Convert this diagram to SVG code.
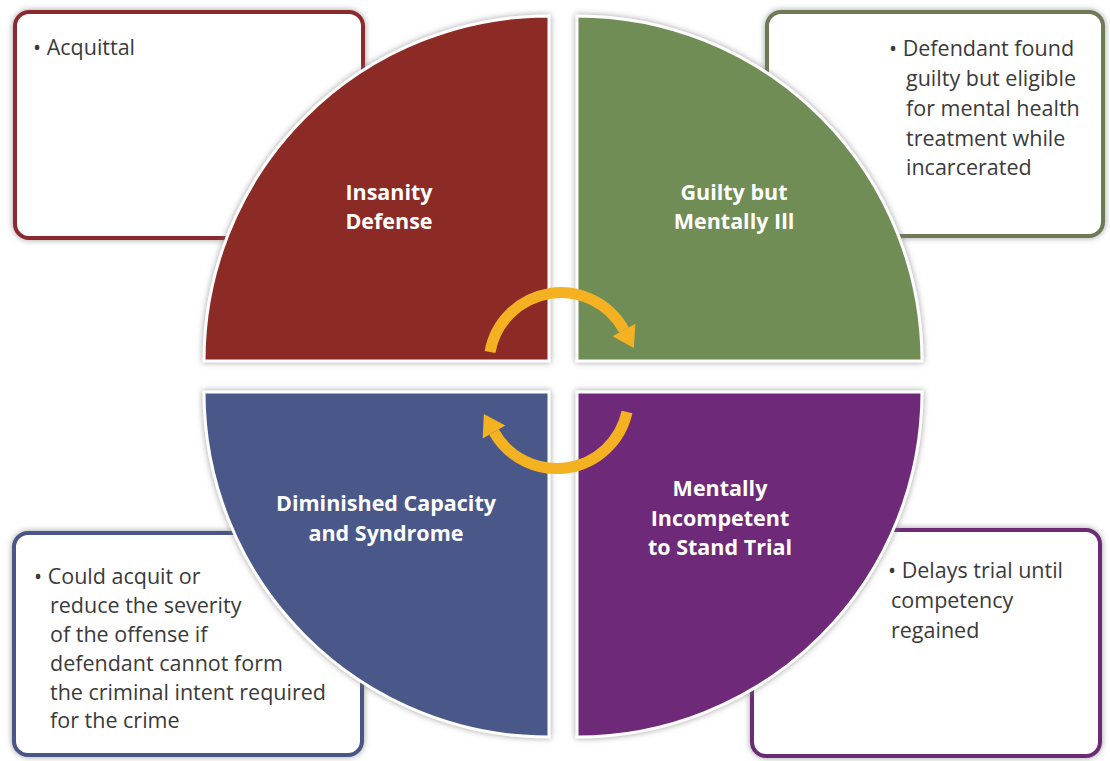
<svg xmlns="http://www.w3.org/2000/svg" width="1110" height="761" viewBox="0 0 1110 761">
<defs>
<style>
.box{fill:#fff;stroke-width:4;}
.body{font-family:"Open Sans","Liberation Sans",sans-serif;font-size:21.5px;fill:#3a3a3a;}
.lbl{font-family:"Open Sans","Liberation Sans",sans-serif;font-size:21.5px;font-weight:bold;fill:#fff;text-anchor:middle;}
.wedge{stroke:#fff;stroke-width:3;}
.arrow{fill:none;stroke:#F4B223;stroke-width:11;}
</style>
<filter id="sh" x="-10%" y="-10%" width="120%" height="120%">
<feDropShadow dx="0" dy="0" stdDeviation="3" flood-color="#777" flood-opacity="0.7"/>
</filter>
<marker id="ah" markerUnits="userSpaceOnUse" markerWidth="24" markerHeight="26" refX="0" refY="12" orient="auto" viewBox="0 0 20 24">
<path d="M0,0 L19,12 L0,24 Z" fill="#F4B223"/>
</marker>
</defs>
<rect width="1110" height="761" fill="#fff"/>

<g id="box-acquittal">
<rect class="box" x="15" y="12" width="348" height="226" rx="14" stroke="#8B2B2E" filter="url(#sh)"/>
<text class="body" x="33" y="55">• Acquittal</text>
</g>
<g id="box-guilty">
<rect class="box" x="767" y="12" width="336" height="224" rx="14" stroke="#6C7A54" filter="url(#sh)"/>
<text class="body" x="889" y="56">• Defendant found</text>
<text class="body" x="906" y="86">guilty but eligible</text>
<text class="body" x="906" y="116">for mental health</text>
<text class="body" x="906" y="146">treatment while</text>
<text class="body" x="906" y="175">incarcerated</text>
</g>
<g id="box-diminished">
<rect class="box" x="14" y="533" width="348" height="222" rx="14" stroke="#4A5484" filter="url(#sh)"/>
<text class="body" x="34" y="584">• Could acquit or</text>
<text class="body" x="50" y="613">reduce the severity</text>
<text class="body" x="50" y="642">of the offense if</text>
<text class="body" x="50" y="671">defendant cannot form</text>
<text class="body" x="50" y="700">the criminal intent required</text>
<text class="body" x="50" y="728">for the crime</text>
</g>
<g id="box-incompetent">
<rect class="box" x="752" y="530" width="348" height="226" rx="14" stroke="#6D2A74" filter="url(#sh)"/>
<text class="body" x="888" y="578">• Delays trial until</text>
<text class="body" x="891" y="608">competency</text>
<text class="body" x="891" y="638">regained</text>
</g>

<g id="node-insanity">
<path class="wedge" d="M549,361 H204 A345,345 0 0 1 549,16 Z" fill="#8C2A25" filter="url(#sh)"/>
<text class="lbl" x="389" y="200">Insanity</text>
<text class="lbl" x="389" y="229">Defense</text>
</g>
<g id="node-guilty">
<path class="wedge" d="M577,361 V16 A345,345 0 0 1 922,361 Z" fill="#6F8D57" filter="url(#sh)"/>
<text class="lbl" x="734" y="200">Guilty but</text>
<text class="lbl" x="734" y="229">Mentally Ill</text>
</g>
<g id="node-diminished">
<path class="wedge" d="M549,392 V737 A345,345 0 0 1 204,392 Z" fill="#4A5888" filter="url(#sh)"/>
<text class="lbl" x="386" y="511">Diminished Capacity</text>
<text class="lbl" x="386" y="541">and Syndrome</text>
</g>
<g id="node-incompetent">
<path class="wedge" d="M577,392 H922 A345,345 0 0 1 577,737 Z" fill="#6E2978" filter="url(#sh)"/>
<text class="lbl" x="720" y="496">Mentally</text>
<text class="lbl" x="720" y="526">Incompetent</text>
<text class="lbl" x="720" y="555">to Stand Trial</text>
</g>

<g id="connectors">
<path class="arrow" d="M490,352 A72,72 0 0 1 624,330" marker-end="url(#ah)"/>
<path class="arrow" d="M627,412 A72,72 0 0 1 494,432" marker-end="url(#ah)"/>
</g>
</svg>
